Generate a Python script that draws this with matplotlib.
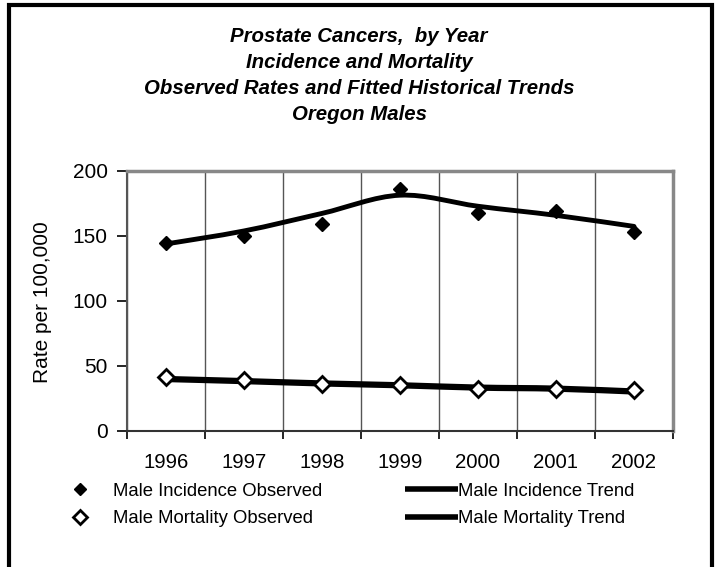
import numpy as np
import matplotlib.pyplot as plt
from matplotlib.path import Path
from matplotlib.patches import PathPatch, Rectangle
from matplotlib.lines import Line2D

plt.rcParams['font.family'] = ['Liberation Sans', 'DejaVu Sans']

years = ['1996', '1997', '1998', '1999', '2000', '2001', '2002']
inc_obs = [144.5, 149.6, 158.8, 185.5, 167.5, 169.0, 152.7]
inc_trend = [143.5, 153.5, 167.0, 181.0, 172.5, 165.5, 157.0]
mort_obs = [40.8, 38.6, 35.8, 35.0, 32.0, 31.9, 30.8]
mort_trend = [39.6, 38.0, 36.2, 34.8, 33.0, 32.2, 30.0]


def smooth_path(xs, ys):
    # Bezier curve through the points, like the smoothed line option in spreadsheets
    pts = np.column_stack([xs, ys]).astype(float)
    n = len(pts)
    verts = [pts[0]]
    codes = [Path.MOVETO]
    for i in range(n - 1):
        p0 = pts[max(i - 1, 0)]
        p1 = pts[i]
        p2 = pts[i + 1]
        p3 = pts[min(i + 2, n - 1)]
        verts += [p1 + (p2 - p0) / 6.0, p2 - (p3 - p1) / 6.0, p2]
        codes += [Path.CURVE4] * 3
    return Path(verts, codes)


W, H = 718, 567
fig = plt.figure(figsize=(W / 100, H / 100), dpi=100)
ax = fig.add_axes([127 / W, 1 - 430.5 / H, 546 / W, 260 / H])

x = np.arange(len(years))
ax.add_patch(PathPatch(smooth_path(x, inc_trend), fill=False, lw=3.5, color='black',
                       capstyle='round', joinstyle='round', zorder=3))
ax.add_patch(PathPatch(smooth_path(x, mort_trend), fill=False, lw=4.5, color='black',
                       capstyle='round', joinstyle='round', zorder=3))
ax.plot(x, inc_obs, ls='none', marker='D', ms=7, color='black', zorder=4)
ax.plot(x, mort_obs, ls='none', marker='D', ms=8, mfc='white', mec='black', mew=2, zorder=4)

ax.set_xlim(-0.5, 6.5)
ax.set_ylim(0, 200)
ax.set_yticks([0, 50, 100, 150, 200])
ax.set_xticks(x)
ax.set_xticklabels(years)
ax.set_xticks(np.arange(-0.5, 7, 1), minor=True)
ax.tick_params(axis='x', which='major', length=0, pad=16, labelsize=14.7)
ax.tick_params(axis='x', which='minor', length=6, width=1.2, direction='out')
ax.tick_params(axis='y', length=7, width=1.2, direction='out', labelsize=15, pad=7)
ax.grid(True, axis='x', which='minor', color='#555555', lw=1)
for side in ['top', 'right']:
    ax.spines[side].set_color('#888888')
    ax.spines[side].set_linewidth(2.5)
ax.spines['left'].set_color('#555555')
ax.spines['left'].set_linewidth(1.5)
ax.spines['bottom'].set_color('#333333')
ax.spines['bottom'].set_linewidth(1.5)
ax.set_ylabel('Rate per 100,000', fontsize=15)
ax.yaxis.set_label_coords((52 - 127) / 546, (430.5 - 302.5) / 260)

title_lines = ['Prostate Cancers,  by Year', 'Incidence and Mortality',
               'Observed Rates and Fitted Historical Trends', 'Oregon Males']
for i, line in enumerate(title_lines):
    fig.text(359 / W, 1 - (37 + i * 26) / H, line, ha='center', va='center',
             fontsize=14.7, fontweight='bold', fontstyle='italic')

fs = 13.3
px = fs * 100 / 72
obs_handles = [Line2D([], [], ls='none', marker='D', ms=6, color='black'),
               Line2D([], [], ls='none', marker='D', ms=7, mfc='white', mec='black', mew=2)]
fig.legend(obs_handles, ['Male Incidence Observed', 'Male Mortality Observed'],
           loc='center left', bbox_to_anchor=((80 - px / 2) / W, 1 - 505 / H),
           frameon=False, fontsize=fs, borderpad=0, borderaxespad=0, handlelength=1.0,
           handletextpad=(113 - 80 - px / 2) / px, labelspacing=0.55)
trend_handles = [Line2D([], [], lw=4, color='black', solid_capstyle='butt'),
                 Line2D([], [], lw=4, color='black', solid_capstyle='butt')]
fig.legend(trend_handles, ['Male Incidence Trend', 'Male Mortality Trend'],
           loc='center left', bbox_to_anchor=(405 / W, 1 - 505 / H),
           frameon=False, fontsize=fs, borderpad=0, borderaxespad=0,
           handlelength=53 / px, handletextpad=0.0, labelspacing=0.55)

fig.patches.append(Rectangle((9 / W, -0.05), 703 / W, 1.05 - 5 / H,
                             transform=fig.transFigure, fill=False, lw=3,
                             edgecolor='black'))

fig.savefig('out.png', dpi=100)
